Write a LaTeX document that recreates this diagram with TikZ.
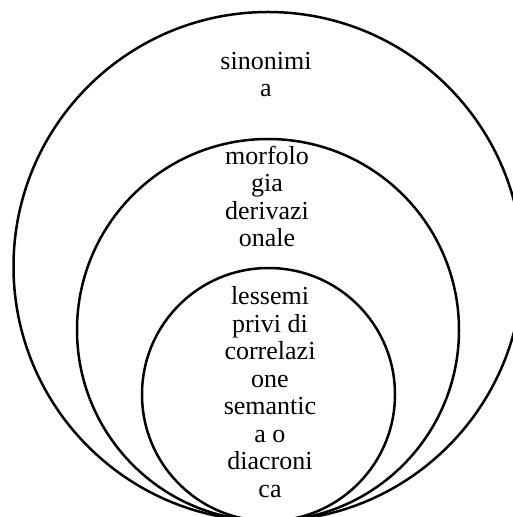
\documentclass[tikz,border=0pt]{standalone}
\usepackage{fontspec}
\setmainfont{Liberation Serif}
\begin{document}
\begin{tikzpicture}[
  x=1pt, y=1pt,
  ring/.style={draw, circle, line width=2.5pt, inner sep=0pt, outer sep=0pt},
  lbl/.style={font=\fontsize{26}{27.5}\selectfont, align=center, inner sep=0pt, anchor=base}
]
\useasboundingbox (0,0) rectangle (512,517);

% nested circles, all touching at the bottom
\node[ring, minimum size=509pt] (outer) at (268,250.5) {};
\node[ring, minimum size=382pt] (middle) at (268,187) {};
\node[ring, minimum size=253pt] (inner) at (268.5,122.5) {};

% labels (anchored at the baseline of their last line)
\node[lbl] (syn) at (266,420.3) {sinonimi\\a};
\node[lbl] (morph) at (267,270) {morfolo\\gia\\derivazi\\onale};
\node[lbl] (lex) at (270,19.7) {lessemi\\privi di\\correlazi\\one\\semantic\\a o\\diacroni\\ca};
\end{tikzpicture}
\end{document}
